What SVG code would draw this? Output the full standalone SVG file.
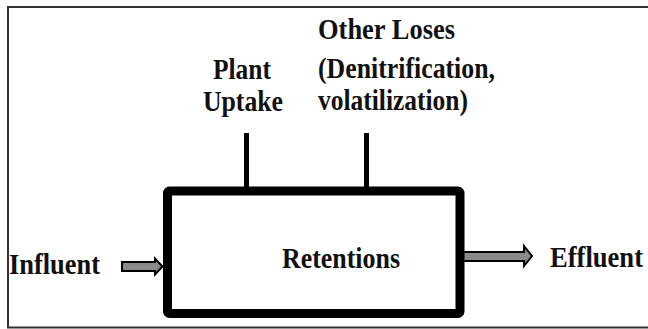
<svg xmlns="http://www.w3.org/2000/svg" width="648" height="329" viewBox="0 0 648 329">
  <style>
    .t { font-family: "Liberation Serif", "DejaVu Serif", "Times New Roman", serif; font-weight: bold; font-size: 27px; fill: #111; }
    .frame { stroke: #333; stroke-width: 2; fill: none; }
    .conn { stroke: #000; stroke-width: 5; fill: none; }
    .arrow { fill: #8a8a8a; stroke: #000; stroke-width: 2; stroke-linejoin: miter; }
  </style>
  <rect width="648" height="329" fill="#fff"/>
  <g id="frame">
    <path class="frame" d="M648,7 H8 V327.5 H648"/>
  </g>
  <g id="connectors">
    <line class="conn" x1="246.5" y1="133" x2="246.5" y2="188"/>
    <line class="conn" x1="366.5" y1="133" x2="366.5" y2="188"/>
    <path class="arrow" d="M122,262 H155 V258.5 L162.5,266.5 L155,274.5 V271 H122 Z"/>
    <path class="arrow" d="M462,252 H524 V246 L532,256 L524,266 V261 H462 Z"/>
  </g>
  <g id="retentions">
    <rect x="167.5" y="191" width="292.5" height="122.5" rx="2" fill="#fff" stroke="#000" stroke-width="9"/>
    <text class="t" transform="translate(282,268) scale(1,1.13)" textLength="118" lengthAdjust="spacingAndGlyphs">Retentions</text>
  </g>
  <g id="influent">
    <text class="t" transform="translate(9,274) scale(1,1.13)" textLength="91" lengthAdjust="spacingAndGlyphs">Influent</text>
  </g>
  <g id="effluent">
    <text class="t" transform="translate(550,267) scale(1,1.13)" textLength="93" lengthAdjust="spacingAndGlyphs">Effluent</text>
  </g>
  <g id="plant-uptake">
    <text class="t" transform="translate(213,79) scale(1,1.13)" textLength="58" lengthAdjust="spacingAndGlyphs">Plant</text>
    <text class="t" transform="translate(203,111) scale(1,1.13)" textLength="80" lengthAdjust="spacingAndGlyphs">Uptake</text>
  </g>
  <g id="other-loses">
    <text class="t" transform="translate(318,39) scale(1,1.13)" textLength="137" lengthAdjust="spacingAndGlyphs">Other Loses</text>
    <text class="t" transform="translate(318,78) scale(1,1.13)" textLength="177" lengthAdjust="spacingAndGlyphs">(Denitrification,</text>
    <text class="t" transform="translate(318,110) scale(1,1.13)" textLength="150" lengthAdjust="spacingAndGlyphs">volatilization)</text>
  </g>
</svg>
